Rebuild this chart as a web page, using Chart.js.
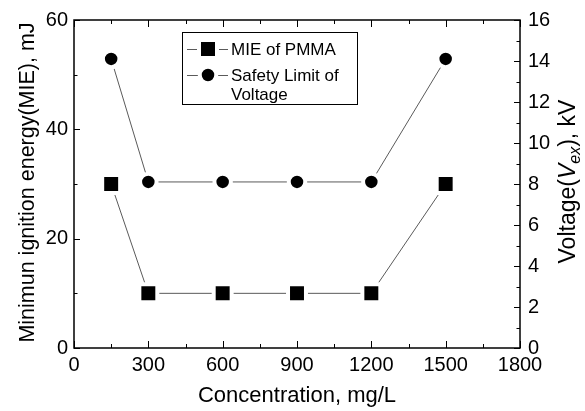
<!DOCTYPE html>
<html>
<head>
<meta charset="utf-8">
<script src="https://cdn.jsdelivr.net/npm/chart.js@4/dist/chart.umd.min.js"></script>
<style>
  body { margin: 0; background: #fff; }
  #wrap { width: 585px; height: 411px; position: relative; }
</style>
</head>
<body>
<div id="wrap"><canvas id="chart-output"></canvas></div>
<script>
// concentration (mg/L)
var concentration = [150, 300, 600, 900, 1200, 1500];
// MIE of PMMA (mJ), left axis
var mieValues = [30, 10, 10, 10, 10, 30];
// safety limit of voltage (kV), right axis
var voltageValues = [14.1, 8.1, 8.1, 8.1, 8.1, 14.1];

var xTicks = { min: 0, max: 1800, step: 300, minor: 150 };
var yLeftTicks = { min: 0, max: 60, step: 20, minor: 10 };
var yRightTicks = { min: 0, max: 16, step: 2, minor: 1 };

var FONT = '"Liberation Sans", Arial, sans-serif';
var LINE_COLOR = '#5a5a5a';

function toPoints(xs, ys) {
  return xs.map(function (x, i) { return { x: x, y: ys[i] }; });
}

// frame, inward ticks on all four sides, axis titles and the legend box
var decorations = {
  id: 'decorations',
  afterDraw: function (chart) {
    var ctx = chart.ctx;
    var a = chart.chartArea;
    var sx = chart.scales.x, yl = chart.scales.y, yr = chart.scales.y1;
    ctx.save();

    ctx.strokeStyle = '#000';
    ctx.lineWidth = 1;
    var v, p, len;
    ctx.beginPath();
    for (v = xTicks.min; v <= xTicks.max; v += xTicks.minor) {
      p = Math.round(sx.getPixelForValue(v)) + 0.5;
      len = (v % xTicks.step === 0) ? 7 : 4;
      ctx.moveTo(p, a.bottom); ctx.lineTo(p, a.bottom - len);
      ctx.moveTo(p, a.top); ctx.lineTo(p, a.top + len);
    }
    for (v = yLeftTicks.min; v <= yLeftTicks.max; v += yLeftTicks.minor) {
      p = Math.round(yl.getPixelForValue(v)) + 0.5;
      len = (v % yLeftTicks.step === 0) ? 6 : 3.5;
      ctx.moveTo(a.left, p); ctx.lineTo(a.left + len, p);
    }
    for (v = yRightTicks.min; v <= yRightTicks.max; v += yRightTicks.minor) {
      p = Math.round(yr.getPixelForValue(v)) + 0.5;
      len = (v % yRightTicks.step === 0) ? 6 : 3.5;
      ctx.moveTo(a.right, p); ctx.lineTo(a.right - len, p);
    }
    ctx.stroke();

    ctx.lineWidth = 1.5;
    ctx.strokeRect(a.left, a.top, a.right - a.left, a.bottom - a.top);

    // axis titles
    ctx.fillStyle = '#000';
    ctx.font = '22px ' + FONT;
    ctx.textAlign = 'center';
    ctx.textBaseline = 'alphabetic';
    ctx.fillText('Concentration, mg/L', (a.left + a.right) / 2, 402);

    ctx.save();
    ctx.translate(34, 182.5);
    ctx.rotate(-Math.PI / 2);
    ctx.font = '21.5px ' + FONT;
    ctx.fillText('Minimun ignition energy(MIE), mJ', 0, 0);
    ctx.restore();

    // right title with italic V and subscript ex
    var parts = [
      { t: 'Voltage(', f: '23px ' + FONT, dy: 0 },
      { t: 'V', f: 'italic 23px ' + FONT, dy: 0 },
      { t: 'ex', f: 'italic 16px ' + FONT, dy: 5 },
      { t: '), kV', f: '23px ' + FONT, dy: 0 }
    ];
    var total = 0;
    parts.forEach(function (s) { ctx.font = s.f; s.w = ctx.measureText(s.t).width; total += s.w; });
    ctx.save();
    ctx.translate(575, 181.5);
    ctx.rotate(-Math.PI / 2);
    ctx.textAlign = 'left';
    var cx = -total / 2;
    parts.forEach(function (s) { ctx.font = s.f; ctx.fillText(s.t, cx, s.dy); cx += s.w; });
    ctx.restore();

    // legend
    ctx.lineWidth = 1;
    ctx.strokeStyle = '#000';
    ctx.strokeRect(182.5, 32.5, 175, 72);
    var rows = [
      { y: 49, style: 'rect', labels: ['MIE of PMMA'] },
      { y: 75, style: 'circle', labels: ['Safety Limit of', 'Voltage'] }
    ];
    rows.forEach(function (r) {
      ctx.strokeStyle = LINE_COLOR;
      ctx.beginPath();
      ctx.moveTo(187, r.y + 0.5); ctx.lineTo(228, r.y + 0.5);
      ctx.stroke();
      ctx.fillStyle = '#000';
      ctx.strokeStyle = '#fff';
      ctx.lineWidth = 4;
      ctx.beginPath();
      if (r.style === 'rect') ctx.rect(208 - 9, r.y - 9, 18, 18);
      else ctx.arc(208, r.y, 8.25, 0, Math.PI * 2);
      ctx.fill(); ctx.stroke();
      ctx.lineWidth = 1;
      ctx.font = '17px ' + FONT;
      ctx.textAlign = 'left';
      ctx.textBaseline = 'middle';
      r.labels.forEach(function (l, i) { ctx.fillText(l, 231, r.y + 1 + i * 19); });
    });
    ctx.restore();
  }
};

var data = {
  datasets: [
    {
      label: 'MIE of PMMA',
      data: toPoints(concentration, mieValues),
      yAxisID: 'y',
      borderColor: LINE_COLOR,
      borderWidth: 1,
      pointStyle: 'rect',
      pointRadius: 12.7,
      pointBackgroundColor: '#000',
      pointBorderColor: '#fff',
      pointBorderWidth: 4
    },
    {
      label: 'Safety Limit of Voltage',
      data: toPoints(concentration, voltageValues),
      yAxisID: 'y1',
      borderColor: LINE_COLOR,
      borderWidth: 1,
      pointStyle: 'circle',
      pointRadius: 8.25,
      pointBackgroundColor: '#000',
      pointBorderColor: '#fff',
      pointBorderWidth: 4
    }
  ]
};

var tickFont = { family: FONT, size: 20 };
var plain = function (value) { return String(value); };

var options = {
  responsive: true,
  maintainAspectRatio: false,
  animation: false,
  events: [],
  layout: { padding: { top: 16, left: 0, right: 0, bottom: 0 } },
  plugins: { legend: { display: false }, tooltip: { enabled: false } },
  scales: {
    x: {
      type: 'linear',
      min: xTicks.min, max: xTicks.max,
      grid: { display: false, drawTicks: false },
      border: { display: false },
      ticks: { stepSize: xTicks.step, color: '#000', font: tickFont, padding: 5, maxRotation: 0, callback: plain },
      afterFit: function (s) { s.height = 63; }
    },
    y: {
      position: 'left',
      min: yLeftTicks.min, max: yLeftTicks.max,
      grid: { display: false, drawTicks: false },
      border: { display: false },
      ticks: { stepSize: yLeftTicks.step, color: '#000', font: tickFont, padding: 6, callback: plain },
      afterFit: function (s) { s.width = 74; }
    },
    y1: {
      position: 'right',
      min: yRightTicks.min, max: yRightTicks.max,
      grid: { display: false, drawTicks: false },
      border: { display: false },
      ticks: { stepSize: yRightTicks.step, color: '#000', font: tickFont, padding: 8, callback: plain },
      afterFit: function (s) { s.width = 65; }
    }
  }
};

var ctx = document.getElementById('chart-output');
var myChart = new Chart(ctx, {
  type: 'line',
  data: data,
  options: options,
  plugins: [decorations]
});
</script>
</body>
</html>
